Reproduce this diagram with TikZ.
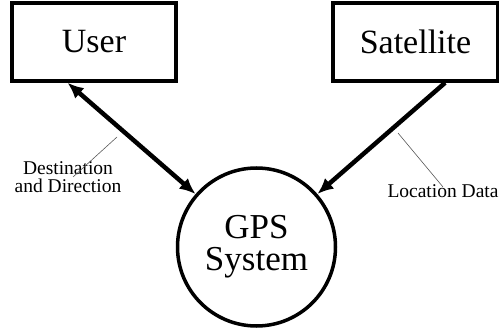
\documentclass[tikz,border=0pt]{standalone}
\usepackage{fontspec}
\setmainfont{Liberation Serif}
\newfontfamily\tnr{Liberation Serif}
\usetikzlibrary{arrows.meta}
\begin{document}
\begin{tikzpicture}[x=1pt,y=-1pt,
  box/.style={draw, line width=3.5pt, minimum width=164pt, minimum height=78pt, inner sep=0pt, font=\tnr\fontsize{34}{36}\selectfont},
  proc/.style={draw, circle, line width=3.5pt, minimum size=158pt, inner sep=0pt, align=center, font=\tnr\fontsize{35}{32}\selectfont},
  tip/.tip={Latex[length=16pt,width=14pt]},
  flow/.style={line width=4.5pt, -tip},
  lbl/.style={font=\tnr\fontsize{19.5}{18}\selectfont, align=center, inner sep=0pt},
  leader/.style={draw, line width=0.6pt, gray!70!black}]
\useasboundingbox (0,0) rectangle (499,329);
\node[box] (user) at (94,42) {User};
\node[box, minimum width=165pt] (sat) at (415.5,42) {Satellite};
\node[proc] (gps) at (256.5,247) {GPS\\System};
\draw[flow, tip-tip] (user.-123.7) -- (gps);
\draw[flow] (sat.-54.8) -- (gps);
\node[lbl, anchor=base] (dest) at (68,193) {Destination\\and Direction};
\node[lbl, anchor=base] (loc) at (443,197) {Location Data};
\coordinate (d1) at (73,177);
\coordinate (d2) at (117,137);
\coordinate (l1) at (443,187);
\coordinate (l2) at (398,133);
\draw[leader] (d1) -- (d2);
\draw[leader] (l1) -- (l2);
\end{tikzpicture}
\end{document}
